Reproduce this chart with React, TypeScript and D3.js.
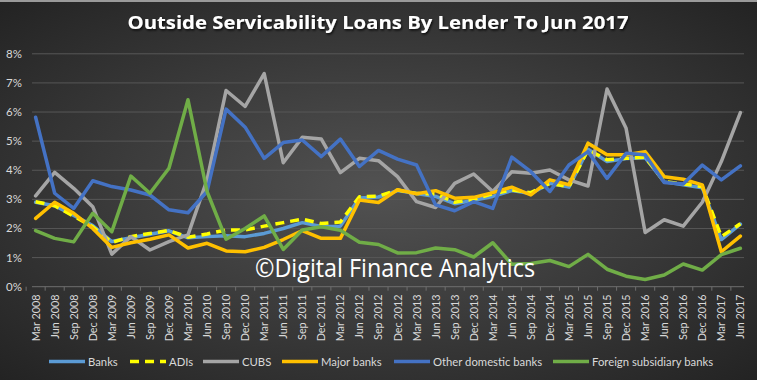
import React from "react";
import * as d3 from "d3";

const quarters: string[] = [];
const years = [2008, 2009, 2010, 2011, 2012, 2013, 2014, 2015, 2016, 2017];
const months = ["Mar", "Jun", "Sep", "Dec"];
years.forEach((y) => months.forEach((m) => { if (!(y === 2017 && (m === "Sep" || m === "Dec"))) quarters.push(`${m} ${y}`); }));

const banks = [2.9, 2.78, 2.45, 2.1, 1.55, 1.68, 1.8, 1.92, 1.68, 1.72, 1.75, 1.72, 1.83, 2.0, 2.2, 2.07, 2.08, 3.05, 3.08, 3.3, 3.2, 3.1, 2.85, 2.97, 3.1, 3.3, 3.2, 3.55, 3.42, 4.72, 4.3, 4.4, 4.43, 3.6, 3.5, 3.4, 1.62, 2.15];
const adis = [2.92, 2.78, 2.42, 2.06, 1.52, 1.72, 1.83, 1.93, 1.7, 1.81, 1.95, 1.95, 2.08, 2.2, 2.32, 2.17, 2.22, 3.09, 3.11, 3.32, 3.2, 3.19, 2.9, 3.0, 3.19, 3.32, 3.23, 3.55, 3.44, 4.7, 4.36, 4.41, 4.45, 3.61, 3.53, 3.44, 1.72, 2.16];
const cubs = [3.12, 3.93, 3.38, 2.75, 1.12, 1.72, 1.26, 1.55, 1.78, 3.67, 6.74, 6.19, 7.32, 4.26, 5.13, 5.07, 3.92, 4.41, 4.33, 3.78, 2.92, 2.72, 3.55, 3.87, 3.27, 3.95, 3.9, 4.01, 3.67, 3.46, 6.79, 5.44, 1.86, 2.3, 2.08, 2.9, 4.3, 5.98];
const majorBanks = [2.35, 2.9, 2.52, 2.0, 1.35, 1.51, 1.63, 1.78, 1.33, 1.49, 1.23, 1.2, 1.35, 1.62, 1.93, 1.66, 1.66, 2.98, 2.89, 3.33, 3.19, 3.3, 3.04, 3.07, 3.23, 3.42, 3.15, 3.67, 3.5, 4.93, 4.53, 4.53, 4.64, 3.78, 3.69, 3.5, 1.2, 1.74];
const otherDomestic = [5.82, 3.21, 2.69, 3.64, 3.44, 3.32, 3.15, 2.64, 2.54, 3.27, 6.1, 5.48, 4.41, 4.95, 5.04, 4.47, 5.07, 4.13, 4.68, 4.38, 4.18, 2.81, 2.61, 2.92, 2.69, 4.45, 3.95, 3.27, 4.18, 4.64, 3.72, 4.58, 4.53, 3.58, 3.53, 4.18, 3.67, 4.15];
const foreignSub = [1.93, 1.66, 1.54, 2.52, 1.89, 3.8, 3.21, 4.07, 6.42, 3.27, 1.63, 2.0, 2.43, 1.28, 1.95, 2.06, 1.94, 1.53, 1.45, 1.16, 1.17, 1.33, 1.27, 1.02, 1.51, 0.77, 0.8, 0.9, 0.69, 1.11, 0.6, 0.36, 0.25, 0.4, 0.78, 0.57, 1.1, 1.32];

const yTicks = [0, 1, 2, 3, 4, 5, 6, 7, 8];

const series = [
  { name: "Banks", values: banks, color: "#5B9BD5", dash: "" },
  { name: "ADIs", values: adis, color: "#FFFF00", dash: "9,6" },
  { name: "CUBS", values: cubs, color: "#A5A5A5", dash: "" },
  { name: "Major banks", values: majorBanks, color: "#FFC000", dash: "" },
  { name: "Other domestic banks", values: otherDomestic, color: "#4472C4", dash: "" },
  { name: "Foreign subsidiary banks", values: foreignSub, color: "#70AD47", dash: "" },
];
const legendX = [49, 130, 203, 282, 394, 553];

const W = 757, H = 380;
const FONT = "Lato, 'Open Sans', sans-serif";

export default function App() {
  const x = d3.scalePoint<string>().domain(quarters).range([32, 744]).padding(0.19);
  const y = d3.scaleLinear().domain([0, 8]).range([286.7, 53.8]);
  const line = d3.line<number>().x((_, i) => x(quarters[i]) as number).y((d) => y(d));

  return (
    <svg width={W} height={H} style={{ position: "absolute", left: 0, top: 0 }} fontFamily={FONT}>
      <defs>
        <radialGradient id="bg" cx="50%" cy="50%" r="75%">
          <stop offset="0%" stopColor="#525252" />
          <stop offset="100%" stopColor="#202020" />
        </radialGradient>
        <filter id="shadow" x="-10%" y="-30%" width="120%" height="160%">
          <feDropShadow dx="1" dy="1.5" stdDeviation="1" floodColor="#000" floodOpacity="0.8" />
        </filter>
      </defs>
      <rect width={W} height={H} fill="url(#bg)" />
      <rect width={W} height={2} fill="#9a9a9a" />
      <text x={378} y={29} textAnchor="middle" fill="#ffffff" fontSize={17} fontWeight="bold" filter="url(#shadow)"
        textLength={501} lengthAdjust="spacingAndGlyphs" fontFamily="'Open Sans', sans-serif">
        Outside Servicability Loans By Lender To Jun 2017
      </text>
      {yTicks.map((t) => (
        <g key={t}>
          <line x1={32} x2={744} y1={y(t)} y2={y(t)} stroke={t === 0 ? "#6e6e6e" : "#575757"} strokeWidth={1} />
          <text x={22} y={y(t) + 4} textAnchor="end" fill="#d9d9d9" fontSize={11.5}>{t}%</text>
        </g>
      ))}
      {quarters.map((q) => (
        <g key={q}>
          <line x1={(x(q) as number) - 9.5} x2={(x(q) as number) - 9.5} y1={y(0)} y2={y(0) + 4} stroke="#6e6e6e" />
          <text transform={`translate(${(x(q) as number) + 4},294.5) rotate(-90)`} textAnchor="end" fill="#d9d9d9" fontSize={10.8}>{q}</text>
        </g>
      ))}
      {series.map((s) => (
        <path key={s.name} d={line(s.values) || ""} fill="none" stroke={s.color} strokeWidth={3.5}
          strokeDasharray={s.dash || undefined} strokeLinejoin="round" strokeLinecap={s.dash ? "butt" : "round"} />
      ))}
      <text x={255} y={277} fill="#ffffff" fontSize={25} textLength={280} lengthAdjust="spacingAndGlyphs" fontFamily="'Open Sans', sans-serif">
        ©Digital Finance Analytics
      </text>
      {series.map((s, i) => (
        <g key={s.name}>
          <line x1={legendX[i]} x2={legendX[i] + 36} y1={361.5} y2={361.5} stroke={s.color} strokeWidth={3.5}
            strokeDasharray={s.dash ? "9,6" : undefined} />
          <text x={legendX[i] + 39} y={365.5} fill="#d9d9d9" fontSize={11.3}>{s.name}</text>
        </g>
      ))}
    </svg>
  );
}
